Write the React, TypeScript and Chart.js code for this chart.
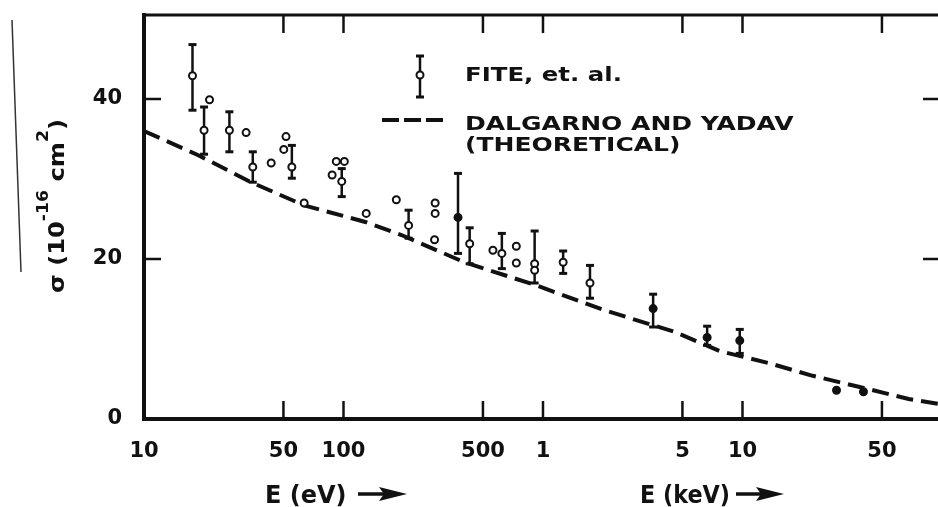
import React, { useEffect, useRef } from "react";
import { Chart, registerables } from "chart.js";

Chart.register(...registerables);

// Axis ticks (x in eV)
const X_TICKS = [10, 50, 100, 500, 1000, 5000, 10000, 50000];
const X_TICK_LABELS = ["10", "50", "100", "500", "1", "5", "10", "50"];
const Y_TICKS = [0, 20, 40];
const Y_TICK_LABELS = ["0", "20", "40"];

// FITE, et. al. measurements (E in eV, sigma in 1e-16 cm^2)
const FITE_E = [17.5, 20.0, 21.3, 26.8, 32.5, 35.1, 43.4, 50.2, 51.5, 55.1, 63.5, 87.7, 92, 98, 101, 130, 184, 212, 286, 288, 288, 375, 429, 561, 622, 735, 735, 908, 908, 1262, 1720, 3565, 6650, 9690, 29600, 40400];
const FITE_SIGMA = [42.9, 36.1, 39.9, 36.1, 35.8, 31.5, 32.0, 33.7, 35.3, 31.5, 27.0, 30.5, 32.2, 29.7, 32.2, 25.7, 27.4, 24.2, 22.4, 25.7, 27.0, 25.2, 21.9, 21.1, 20.7, 21.6, 19.5, 19.4, 18.6, 19.6, 17.0, 13.8, 10.2, 9.8, 3.6, 3.4];
const FITE_LOW = [38.6, 33.1, null, 33.4, null, 29.6, null, null, null, 30.1, null, null, null, 27.8, null, null, null, 22.6, null, null, null, 20.7, 19.4, null, 18.8, null, null, 17.0, null, 18.2, 15.1, 11.5, 9.2, 8.2, null, null];
const FITE_HIGH = [46.8, 39.0, null, 38.4, null, 33.4, null, null, null, 34.2, null, null, null, 31.3, null, null, null, 26.1, null, null, null, 30.7, 23.9, null, 23.2, null, null, 23.5, null, 21.0, 19.2, 15.6, 11.6, 11.2, null, null];
const FITE_FILLED = [false, false, false, false, false, false, false, false, false, false, false, false, false, false, false, false, false, false, false, false, false, true, false, false, false, false, false, false, false, false, false, true, true, true, true, true];

// Dalgarno and Yadav (theoretical)
const THEORY_E = [10, 18.6, 34.4, 63.5, 130, 195, 403, 926, 2030, 4560, 7670, 13500, 22500, 38700, 68100, 95500];
const THEORY_SIGMA = [36.0, 33.0, 29.6, 26.7, 24.6, 23.0, 19.6, 16.7, 13.6, 10.9, 8.5, 7.0, 5.4, 4.0, 2.5, 1.9];

const LEGEND_FITE = "FITE, et. al.";
const LEGEND_THEORY_1 = "DALGARNO AND YADAV";
const LEGEND_THEORY_2 = "(THEORETICAL)";

const INK = "#111";
const FONT = "DejaVu Sans";

function line(ctx: CanvasRenderingContext2D, x1: number, y1: number, x2: number, y2: number) {
  ctx.beginPath();
  ctx.moveTo(x1, y1);
  ctx.lineTo(x2, y2);
  ctx.stroke();
}

function stretchedText(ctx: CanvasRenderingContext2D, text: string, x: number, y: number, k: number) {
  ctx.save();
  ctx.translate(x, y);
  ctx.scale(k, 1);
  ctx.fillText(text, 0, 0);
  ctx.restore();
}

function arrow(ctx: CanvasRenderingContext2D, x1: number, x2: number, y: number) {
  ctx.lineWidth = 3.5;
  line(ctx, x1, y, x2 - 22, y);
  ctx.beginPath();
  ctx.moveTo(x2 - 28, y - 7);
  ctx.lineTo(x2, y);
  ctx.lineTo(x2 - 28, y + 7);
  ctx.lineTo(x2 - 23, y);
  ctx.closePath();
  ctx.fill();
}

const overlayPlugin = {
  id: "overlay",
  beforeDatasetsDraw(chart: any) {
    const { ctx, scales } = chart;
    const xs = scales.x;
    const ys = scales.y;
    ctx.save();
    ctx.strokeStyle = INK;
    ctx.lineCap = "butt";
    FITE_E.forEach((e, i) => {
      const lo = FITE_LOW[i];
      const hi = FITE_HIGH[i];
      if (lo == null || hi == null) return;
      const px = xs.getPixelForValue(e);
      const p1 = ys.getPixelForValue(lo);
      const p2 = ys.getPixelForValue(hi);
      ctx.lineWidth = 2.5;
      line(ctx, px, p1, px, p2);
      ctx.lineWidth = 3;
      line(ctx, px - 4, p1, px + 4, p1);
      line(ctx, px - 4, p2, px + 4, p2);
    });
    ctx.restore();
  },
  afterDraw(chart: any) {
    const { ctx, chartArea, scales } = chart;
    const xs = scales.x;
    const ys = scales.y;
    const { left, right, top, bottom } = chartArea;
    ctx.save();
    ctx.strokeStyle = INK;
    ctx.fillStyle = INK;
    ctx.lineCap = "square";

    // frame
    ctx.lineWidth = 4;
    line(ctx, left, top, left, bottom);
    line(ctx, left, bottom, right, bottom);
    ctx.lineWidth = 3;
    line(ctx, left, top, right, top);

    // inward ticks
    ctx.lineCap = "butt";
    ctx.lineWidth = 2.5;
    X_TICKS.forEach((v) => {
      if (v === X_TICKS[0]) return;
      const px = xs.getPixelForValue(v);
      line(ctx, px, bottom, px, bottom - 18);
      line(ctx, px, top, px, top + 18);
    });
    Y_TICKS.forEach((v) => {
      if (v === 0) return;
      const py = ys.getPixelForValue(v);
      line(ctx, left, py, left + 17, py);
      line(ctx, right - 15, py, right, py);
    });

    // scan artifact line at the far left
    ctx.lineWidth = 1.5;
    ctx.strokeStyle = "#333";
    line(ctx, 12, 20, 21, 272);
    ctx.strokeStyle = INK;

    // legend
    ctx.lineWidth = 2.5;
    line(ctx, 420, 56, 420, 97);
    ctx.lineWidth = 3;
    line(ctx, 416, 56, 424, 56);
    line(ctx, 416, 97, 424, 97);
    ctx.lineWidth = 2;
    ctx.beginPath();
    ctx.arc(420, 75, 3.5, 0, Math.PI * 2);
    ctx.fillStyle = "#fff";
    ctx.fill();
    ctx.stroke();
    ctx.fillStyle = INK;
    ctx.lineWidth = 4;
    ctx.setLineDash([17, 5]);
    line(ctx, 382, 120, 443, 120);
    ctx.setLineDash([]);

    ctx.font = `bold 20px "${FONT}"`;
    ctx.textAlign = "left";
    ctx.textBaseline = "alphabetic";
    stretchedText(ctx, LEGEND_FITE, 465, 81, 1.22);
    stretchedText(ctx, LEGEND_THEORY_1, 465, 130, 1.25);
    stretchedText(ctx, LEGEND_THEORY_2, 465, 151, 1.25);

    // x axis titles
    ctx.font = `bold 24px "${FONT}"`;
    stretchedText(ctx, "E (eV)", 265, 503, 1.0);
    arrow(ctx, 358, 407, 494);
    stretchedText(ctx, "E (keV)", 640, 503, 0.93);
    arrow(ctx, 736, 784, 494);

    // y axis title (rotated)
    ctx.save();
    ctx.translate(64, 293);
    ctx.rotate(-Math.PI / 2);
    ctx.scale(1.15, 1);
    let cx = 0;
    const piece = (t: string, size: number, rise: number) => {
      ctx.font = `bold ${size}px "${FONT}"`;
      ctx.fillText(t, cx, -rise);
      cx += ctx.measureText(t).width;
    };
    piece("σ (10", 21, 0);
    piece("-16", 15, 16);
    piece(" cm", 21, 0);
    piece("2", 15, 16);
    piece(")", 21, 0);
    ctx.restore();

    ctx.restore();
  },
};

export default function App() {
  const canvasRef = useRef<HTMLCanvasElement | null>(null);

  useEffect(() => {
    const canvas = canvasRef.current;
    if (!canvas) return;
    const tickFont = { family: FONT, weight: "bold" as const, size: 21 };
    const chart = new Chart(canvas, {
      type: "scatter",
      data: {
        datasets: [
          {
            label: LEGEND_THEORY_1,
            data: THEORY_E.map((e, i) => ({ x: e, y: THEORY_SIGMA[i] })),
            showLine: true,
            borderColor: INK,
            borderWidth: 4,
            borderDash: [17, 8],
            pointRadius: 0,
            fill: false,
            order: 2,
          },
          {
            label: LEGEND_FITE,
            data: FITE_E.map((e, i) => ({ x: e, y: FITE_SIGMA[i] })),
            showLine: false,
            pointRadius: 3.5,
            pointBorderWidth: 2,
            pointBorderColor: INK,
            pointBackgroundColor: FITE_FILLED.map((f) => (f ? INK : "#fff")),
            order: 1,
          },
        ],
      },
      options: {
        animation: false,
        responsive: false,
        events: [],
        layout: { autoPadding: false, padding: { top: 15, right: 0, bottom: 0, left: 0 } },
        plugins: { legend: { display: false }, tooltip: { enabled: false } },
        scales: {
          x: {
            type: "logarithmic",
            min: 10,
            max: 95500,
            afterBuildTicks: (s: any) => {
              s.ticks = X_TICKS.map((v) => ({ value: v }));
            },
            afterFit: (s: any) => {
              s.height = 88;
              s.paddingLeft = 0;
              s.paddingRight = 0;
            },
            ticks: {
              autoSkip: false,
              maxRotation: 0,
              minRotation: 0,
              padding: 20,
              color: INK,
              font: tickFont,
              callback: (v: any) => X_TICK_LABELS[X_TICKS.indexOf(Number(v))] ?? "",
            },
            grid: { display: false, drawTicks: false },
            border: { display: false },
          },
          y: {
            type: "linear",
            min: 0,
            max: 50.5,
            afterBuildTicks: (s: any) => {
              s.ticks = Y_TICKS.map((v) => ({ value: v }));
            },
            afterFit: (s: any) => {
              s.width = 144;
              s.paddingTop = 0;
              s.paddingBottom = 0;
            },
            ticks: {
              padding: 22,
              color: INK,
              font: tickFont,
              callback: (v: any) => Y_TICK_LABELS[Y_TICKS.indexOf(Number(v))] ?? "",
            },
            grid: { display: false, drawTicks: false },
            border: { display: false },
          },
        },
      },
      plugins: [overlayPlugin],
    } as any);
    return () => chart.destroy();
  }, []);

  return (
    <div style={{ position: "fixed", left: 0, top: 0, width: 938, height: 507, background: "#fff" }}>
      <canvas ref={canvasRef} width={938} height={507} style={{ display: "block" }} />
    </div>
  );
}
